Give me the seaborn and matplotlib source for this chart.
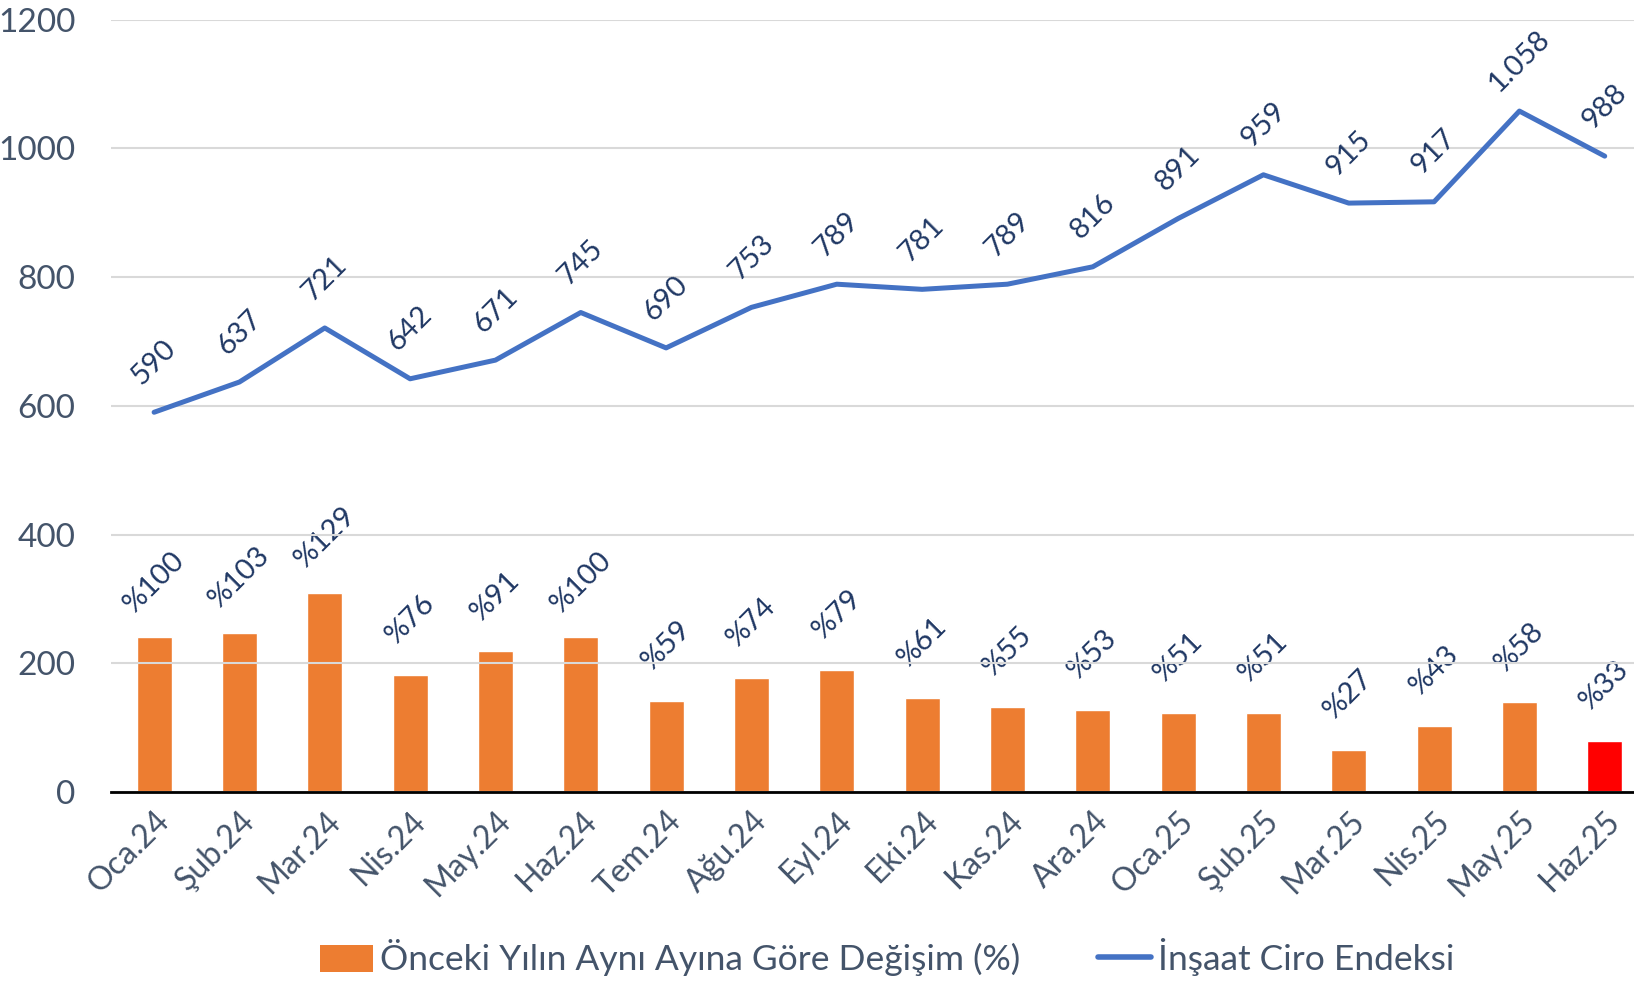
import numpy as np
import matplotlib
matplotlib.use("Agg")
import matplotlib.pyplot as plt
import seaborn as sns
from matplotlib.patches import Patch
from matplotlib.lines import Line2D

# Veriler
aylar = ["Oca.24", "Şub.24", "Mar.24", "Nis.24", "May.24", "Haz.24", "Tem.24", "Ağu.24", "Eyl.24",
         "Eki.24", "Kas.24", "Ara.24", "Oca.25", "Şub.25", "Mar.25", "Nis.25", "May.25", "Haz.25"]
ciro_endeksi = [590, 637, 721, 642, 671, 745, 690, 753, 789, 781, 789, 816, 891, 959, 915, 917, 1058, 988]
ciro_etiket = ["590", "637", "721", "642", "671", "745", "690", "753", "789", "781", "789", "816",
               "891", "959", "915", "917", "1.058", "988"]
yillik_degisim = [100, 103, 129, 76, 91, 100, 59, 74, 79, 61, 55, 53, 51, 51, 27, 43, 58, 33]

sol_ticks = [0, 200, 400, 600, 800, 1000, 1200]

TURUNCU = "#ED7D31"
KIRMIZI = "#FF0000"
MAVI = "#4472C4"
YAZI = "#44546A"
ETIKET = "#203864"

sns.set_style("white")
plt.rcParams['font.family'] = ['Lato', 'DejaVu Sans']

fig = plt.figure(figsize=(16.34, 9.85), dpi=100)
ax = fig.add_axes([0.0682, 0.196, 0.940, 0.784])
ax2 = ax.twinx()

x = np.arange(len(aylar))
renkler = [TURUNCU] * (len(aylar) - 1) + [KIRMIZI]

# Sütunlar (gizli ikincil eksen, 0-500)
sns.barplot(x=x, y=yillik_degisim, hue=x, palette=renkler, legend=False,
            width=0.41, ax=ax2, native_scale=True, saturation=1)
ax2.set_ylim(0, 500)
ax2.set_yticks([])
ax2.set_ylabel("")
for s in ax2.spines.values():
    s.set_visible(False)

for xi, v in zip(x, yillik_degisim):
    ax2.annotate(f"%{v}", (xi, v), xytext=(0, 40), textcoords="offset points",
                 ha="center", va="center", rotation=45, rotation_mode="anchor",
                 fontsize=21, color=ETIKET)

# Çizgi (birincil eksen)
sns.lineplot(x=x, y=ciro_endeksi, color=MAVI, linewidth=3.6, ax=ax, sort=False,
             solid_capstyle="round")
for xi, v, t in zip(x, ciro_endeksi, ciro_etiket):
    ax.annotate(t, (xi, v), xytext=(0, 36), textcoords="offset points",
                ha="center", va="center", rotation=45, rotation_mode="anchor",
                fontsize=21, color=ETIKET)

ax.set_ylim(0, 1200)
ax.set_yticks(sol_ticks)
ax.set_yticklabels([str(t) for t in sol_ticks], fontsize=24, color=YAZI)
ax.tick_params(axis="y", length=0, pad=26)
ax.set_xlim(-0.5, len(aylar) - 0.5)
ax.set_xticks(x)
ax.set_xticklabels(aylar, rotation=45, ha="right", rotation_mode="anchor",
                   fontsize=23, color=YAZI)
ax.tick_params(axis="x", length=0, pad=10)
ax.grid(axis="y", color="#D9D9D9", linewidth=1.5)
ax.set_axisbelow(True)
for s in ["top", "right", "left"]:
    ax.spines[s].set_visible(False)
ax.spines["bottom"].set_color("black")
ax.spines["bottom"].set_linewidth(2)
ax.spines["bottom"].set_zorder(5)

ax.set_zorder(ax2.get_zorder() + 1)
ax.patch.set_visible(False)

handles = [Patch(facecolor=TURUNCU, edgecolor="none"),
           Line2D([0], [0], color=MAVI, linewidth=4)]
fig.legend(handles, ["Önceki Yılın Aynı Ayına Göre Değişim (%)", "İnşaat Ciro Endeksi"],
           loc="center", bbox_to_anchor=(0.543, 0.028), ncol=2, frameon=False,
           fontsize=25.5, labelcolor=YAZI, handlelength=1.5, handleheight=0.8,
           handletextpad=0.2, columnspacing=2.2)

fig.savefig("out.png", dpi=100)
